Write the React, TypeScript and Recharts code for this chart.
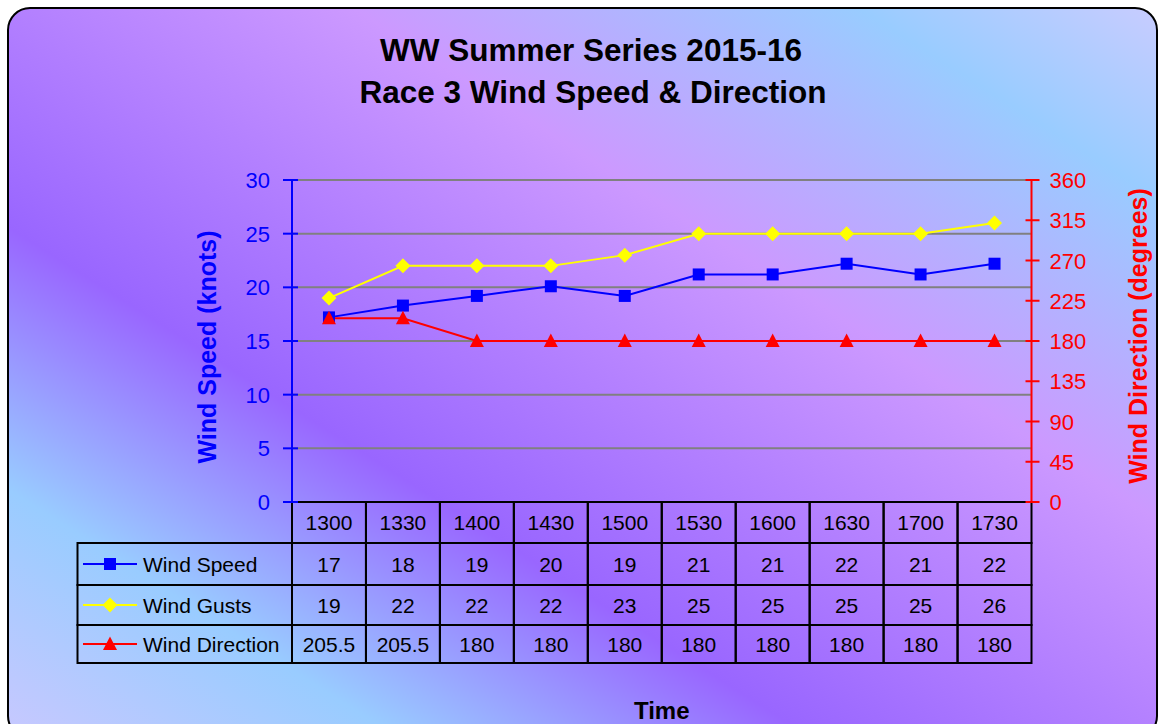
import React from 'react';
import { LineChart, Line, XAxis, YAxis, CartesianGrid } from 'recharts';

const categories = ['1300', '1330', '1400', '1430', '1500', '1530', '1600', '1630', '1700', '1730'];
const windSpeed = [17.2, 18.3, 19.2, 20.1, 19.2, 21.2, 21.2, 22.2, 21.2, 22.2];
const windGusts = [19, 22, 22, 22, 23, 25, 25, 25, 25, 26];
const windDirection = [205.5, 205.5, 180, 180, 180, 180, 180, 180, 180, 180];
const speedTicks = [0, 5, 10, 15, 20, 25, 30];
const directionTicks = [0, 45, 90, 135, 180, 225, 270, 315, 360];
const seriesNames = ['Wind Speed', 'Wind Gusts', 'Wind Direction'];
const seriesColors = ['#0000ff', '#ffff00', '#ff0000'];
const titleLines = ['WW Summer Series 2015-16', 'Race 3 Wind Speed & Direction'];

const data = categories.map((c, i) => ({
  time: c,
  speed: windSpeed[i],
  gusts: windGusts[i],
  direction: windDirection[i],
}));

const W = 1159;
const H = 724;
const PLOT_LEFT = 292;
const PLOT_RIGHT = 1031.5;
const PLOT_TOP = 180;
const PLOT_BOTTOM = 502;
const LEFT_AXIS_W = 80;
const RIGHT_AXIS_W = 80;
const X_AXIS_H = 161;
const COL_W = (PLOT_RIGHT - PLOT_LEFT) / categories.length;
const FONT = '"Liberation Sans", Arial, Helvetica, sans-serif';

// table row boundaries relative to x-axis line
const ROW_EDGES = [0, 41, 83, 123, 161];

const Marker = ({ kind, cx, cy }: { kind: number; cx: number; cy: number }) => {
  if (kind === 0) return <rect x={cx - 6} y={cy - 6} width={12} height={12} fill={seriesColors[0]} />;
  if (kind === 1)
    return <polygon points={`${cx},${cy - 7.5} ${cx + 7.5},${cy} ${cx},${cy + 7.5} ${cx - 7.5},${cy}`} fill={seriesColors[1]} />;
  return <polygon points={`${cx},${cy - 7.5} ${cx + 7},${cy + 6} ${cx - 7},${cy + 6}`} fill={seriesColors[2]} />;
};

const makeDot = (kind: number) => (p: any) => {
  if (p.cx == null || p.cy == null) return <g key={`d${kind}-${p.index}`} />;
  return (
    <g key={`d${kind}-${p.index}`}>
      <Marker kind={kind} cx={p.cx} cy={p.cy} />
    </g>
  );
};

const cellValue = (row: number, i: number) => {
  if (row === 0) return String(Math.round(windSpeed[i]));
  if (row === 1) return String(windGusts[i]);
  return String(windDirection[i]);
};

const TableTick = (props: any) => {
  const { x, y, payload } = props;
  const i = categories.indexOf(payload.value);
  const left = x - COL_W / 2;
  const cells: React.ReactNode[] = [];
  for (let r = 0; r < 4; r++) {
    const top = y + ROW_EDGES[r];
    const h = ROW_EDGES[r + 1] - ROW_EDGES[r];
    const text = r === 0 ? payload.value : cellValue(r - 1, i);
    cells.push(
      <g key={r}>
        <rect x={left} y={top} width={COL_W} height={h} fill="none" stroke="#000" strokeWidth={2} />
        <text x={x} y={top + h / 2 + 7.5} textAnchor="middle" fontSize={21} fontFamily={FONT} fill="#000">
          {text}
        </text>
      </g>
    );
  }
  let legend: React.ReactNode = null;
  if (i === 0) {
    const lx = 77.5;
    legend = (
      <g>
        {seriesNames.map((name, r) => {
          const top = y + ROW_EDGES[r + 1];
          const h = ROW_EDGES[r + 2] - ROW_EDGES[r + 1];
          const cy = top + h / 2;
          return (
            <g key={name}>
              <rect x={lx} y={top} width={left - lx} height={h} fill="none" stroke="#000" strokeWidth={2} />
              <line x1={83} x2={137} y1={cy} y2={cy} stroke={seriesColors[r]} strokeWidth={2} />
              <Marker kind={r} cx={110} cy={cy} />
              <text x={143} y={cy + 7.5} fontSize={21} fontFamily={FONT} fill="#000">
                {name}
              </text>
            </g>
          );
        })}
      </g>
    );
  }
  return (
    <g>
      {legend}
      {cells}
    </g>
  );
};

const LeftTick = (props: any) => {
  const { x, y, payload } = props;
  const ax = x + 22;
  return (
    <g>
      <line x1={ax - 9} x2={ax + 6} y1={y} y2={y} stroke="#0000ff" strokeWidth={2} />
      <text x={x} y={y + 8} textAnchor="end" fontSize={22} fontFamily={FONT} fill="#0000ff">
        {payload.value}
      </text>
    </g>
  );
};

const RightTick = (props: any) => {
  const { x, y, payload } = props;
  const ax = x - 18;
  return (
    <g>
      <line x1={ax - 6} x2={ax + 8} y1={y} y2={y} stroke="#ff0000" strokeWidth={2} />
      <text x={x} y={y + 8} textAnchor="start" fontSize={22} fontFamily={FONT} fill="#ff0000">
        {payload.value}
      </text>
    </g>
  );
};

const LeftTitle = (props: any) => {
  const vb = props.viewBox || { x: PLOT_LEFT - LEFT_AXIS_W, y: PLOT_TOP, width: LEFT_AXIS_W, height: PLOT_BOTTOM - PLOT_TOP };
  const cx = vb.x - 5;
  const cy = vb.y + vb.height / 2 + 6;
  return (
    <text
      transform={`translate(${cx},${cy}) rotate(-90)`}
      textAnchor="middle"
      dy="0.36em"
      fontSize={25}
      fontWeight="bold"
      fontFamily={FONT}
      fill="#0000ff"
    >
      Wind Speed (knots)
    </text>
  );
};

const RightTitle = (props: any) => {
  const vb = props.viewBox || { x: PLOT_RIGHT, y: PLOT_TOP, width: RIGHT_AXIS_W, height: PLOT_BOTTOM - PLOT_TOP };
  const cx = vb.x + 106.5;
  const cy = vb.y + vb.height / 2 - 5;
  return (
    <text
      transform={`translate(${cx},${cy}) rotate(-90)`}
      textAnchor="middle"
      dy="0.36em"
      fontSize={25}
      fontWeight="bold"
      fontFamily={FONT}
      fill="#ff0000"
    >
      Wind Direction (degrees)
    </text>
  );
};

export default function App() {
  return (
    <div style={{ position: 'fixed', left: 0, top: 0, width: W, height: H, overflow: 'hidden', background: '#fff' }}>
      <svg width={W} height={H} style={{ position: 'absolute', left: 0, top: 0 }}>
        <defs>
          <linearGradient id="bgGrad" x1="1" y1="0" x2="0" y2="1">
            <stop offset="0" stopColor="#c8ccff" />
            <stop offset="0.13" stopColor="#99ccff" />
            <stop offset="0.35" stopColor="#cc99ff" />
            <stop offset="0.65" stopColor="#9966ff" />
            <stop offset="0.83" stopColor="#99ccff" />
            <stop offset="1" stopColor="#c8c8ff" />
          </linearGradient>
        </defs>
        <rect x={8} y={8} width={1149} height={730} rx={22} ry={22} fill="url(#bgGrad)" stroke="#000" strokeWidth={2} />
        <text x={591} y={61} textAnchor="middle" fontSize={31.5} fontWeight="bold" fontFamily={FONT} fill="#000">
          {titleLines[0]}
        </text>
        <text x={593} y={103} textAnchor="middle" fontSize={31.5} fontWeight="bold" fontFamily={FONT} fill="#000">
          {titleLines[1]}
        </text>
        <text x={(PLOT_LEFT + PLOT_RIGHT) / 2} y={719} textAnchor="middle" fontSize={24} fontWeight="bold" fontFamily={FONT} fill="#000">
          Time
        </text>
      </svg>
      <div style={{ position: 'absolute', left: 0, top: 0 }}>
        <LineChart
          width={W}
          height={H}
          data={data}
          margin={{
            top: PLOT_TOP,
            left: PLOT_LEFT - LEFT_AXIS_W,
            right: W - PLOT_RIGHT - RIGHT_AXIS_W,
            bottom: H - PLOT_BOTTOM - X_AXIS_H,
          }}
        >
          <CartesianGrid yAxisId="left" horizontal={true} vertical={false} stroke="#808080" strokeWidth={2} />
          <XAxis
            dataKey="time"
            height={X_AXIS_H}
            interval={0}
            tickLine={false}
            tickSize={0}
            tickMargin={0}
            padding={{ left: COL_W / 2, right: COL_W / 2 }}
            axisLine={{ stroke: '#000', strokeWidth: 2 }}
            tick={<TableTick />}
          />
          <YAxis
            yAxisId="left"
            orientation="left"
            width={LEFT_AXIS_W}
            domain={[0, 30]}
            ticks={speedTicks}
            interval={0}
            tickLine={false}
            tickSize={9}
            tickMargin={13}
            axisLine={{ stroke: '#0000ff', strokeWidth: 2 }}
            tick={<LeftTick />}
            label={{ content: <LeftTitle /> }}
          />
          <YAxis
            yAxisId="right"
            orientation="right"
            width={RIGHT_AXIS_W}
            domain={[0, 360]}
            ticks={directionTicks}
            interval={0}
            tickLine={false}
            tickSize={7}
            tickMargin={11}
            axisLine={{ stroke: '#ff0000', strokeWidth: 2 }}
            tick={<RightTick />}
            label={{ content: <RightTitle /> }}
          />
          <Line
            yAxisId="left"
            type="linear"
            dataKey="speed"
            name={seriesNames[0]}
            stroke={seriesColors[0]}
            strokeWidth={2}
            dot={makeDot(0)}
            activeDot={false}
            isAnimationActive={false}
          />
          <Line
            yAxisId="left"
            type="linear"
            dataKey="gusts"
            name={seriesNames[1]}
            stroke={seriesColors[1]}
            strokeWidth={2}
            dot={makeDot(1)}
            activeDot={false}
            isAnimationActive={false}
          />
          <Line
            yAxisId="right"
            type="linear"
            dataKey="direction"
            name={seriesNames[2]}
            stroke={seriesColors[2]}
            strokeWidth={2}
            dot={makeDot(2)}
            activeDot={false}
            isAnimationActive={false}
          />
        </LineChart>
      </div>
    </div>
  );
}
